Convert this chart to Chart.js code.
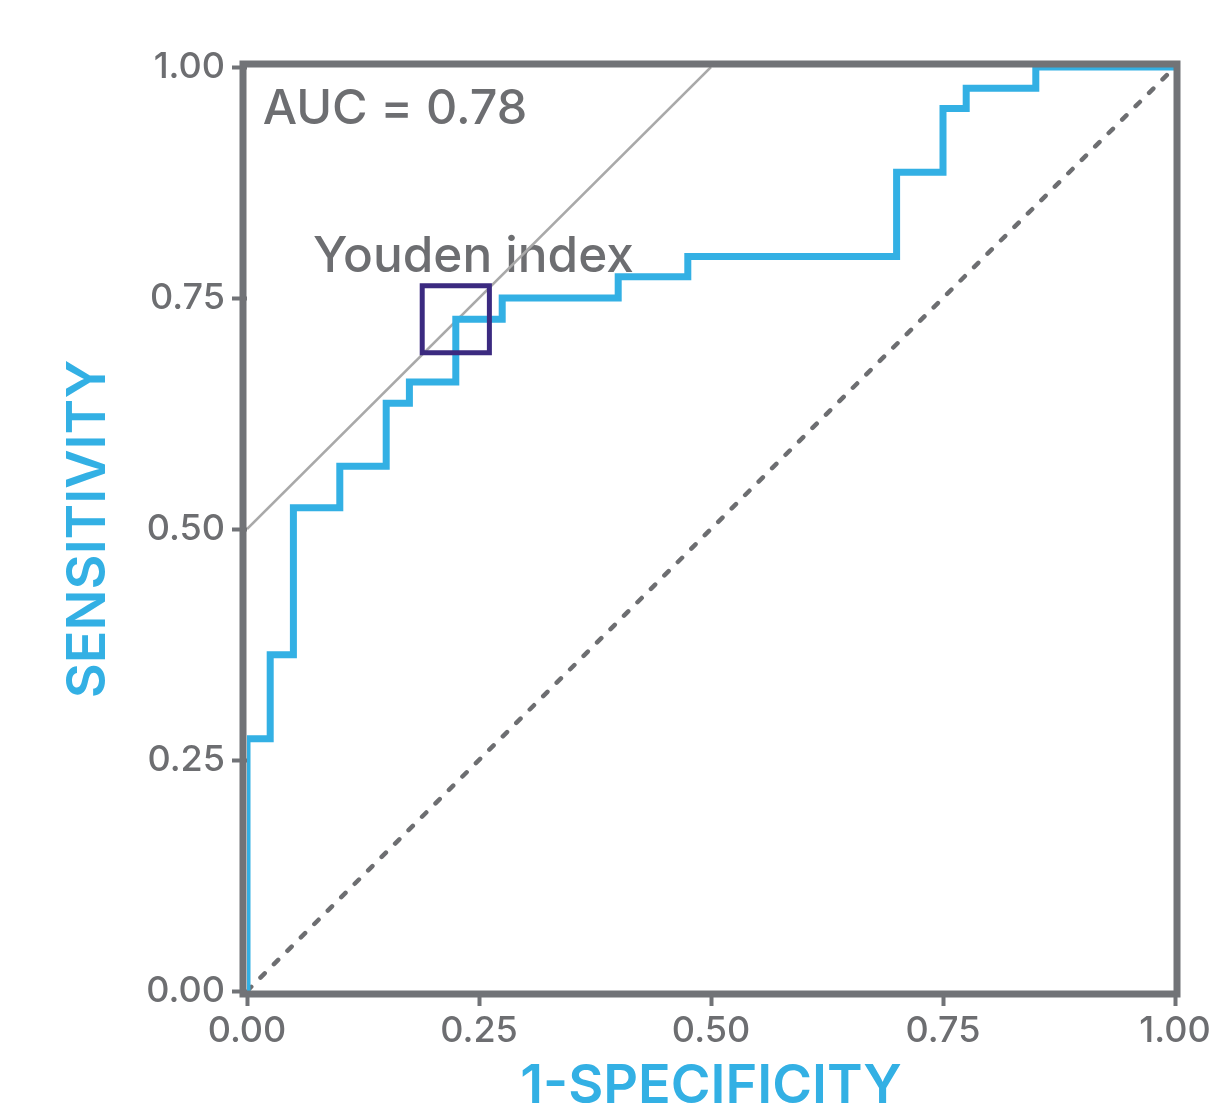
<!DOCTYPE html>
<html>
<head>
<meta charset="utf-8">
<script src="https://cdn.jsdelivr.net/npm/chart.js@4.4.1/dist/chart.umd.min.js"></script>
<style>
  html, body { margin: 0; padding: 0; background: #ffffff; }
  #wrap { width: 1217px; height: 1105px; }
</style>
</head>
<body>
<div id="wrap"><canvas id="roc" width="1217" height="1105"></canvas></div>
<script>
// ROC curve vertices (false positive rate, true positive rate)
const fpr = [0, 0, 0.025, 0.05, 0.10, 0.15, 0.175, 0.225, 0.275, 0.40, 0.475, 0.70, 0.75, 0.775, 0.85, 1.00];
const tpr = [0, 0.273, 0.364, 0.523, 0.568, 0.636, 0.659, 0.727, 0.750, 0.773, 0.795, 0.886, 0.955, 0.977, 1.00, 1.00];

// Chance diagonal
const chanceX = [0, 1];
const chanceY = [0, 1];

// Tangent line of slope 1 through the optimal cut-off
const tangentX = [0, 0.5];
const tangentY = [0.5, 1.0];

// Optimal cut-off (Youden index)
const youdenX = [0.225];
const youdenY = [0.727];

// Axis ticks
const tickValues = [0, 0.25, 0.5, 0.75, 1];

// Annotation texts and their anchor positions (data units)
const aucLabel = 'AUC = 0.78';
const aucAt = [0.017, 0.938];
const youdenLabel = 'Youden index';
const youdenAt = [0.071, 0.778];

const GREY = '#6d6e71';
const FRAME = '#717377';
const BLUE = '#33b0e4';
const PURPLE = '#3b2a80';
const LIGHT = '#a9a9a9';
const FONT = 'Inter, "Open Sans", sans-serif';

const zip = (xs, ys) => xs.map((x, i) => ({ x, y: ys[i] }));

const annotations = {
  id: 'annotations',
  beforeDatasetsDraw(chart) {
    const { ctx, scales: { x, y } } = chart;
    ctx.save();
    ctx.fillStyle = GREY;
    ctx.textBaseline = 'alphabetic';
    ctx.textAlign = 'left';
    ctx.font = '500 48.5px ' + FONT;
    ctx.fillText(aucLabel, x.getPixelForValue(aucAt[0]), y.getPixelForValue(aucAt[1]));
    ctx.font = '500 49.5px ' + FONT;
    ctx.fillText(youdenLabel, x.getPixelForValue(youdenAt[0]), y.getPixelForValue(youdenAt[1]));
    ctx.restore();
  },
  afterDatasetsDraw(chart) {
    const { ctx, chartArea: a } = chart;
    ctx.save();
    ctx.strokeStyle = FRAME;
    ctx.lineWidth = 7;
    ctx.lineJoin = 'miter';
    ctx.strokeRect(a.left - 4, a.top - 3, (a.right + 2) - (a.left - 4), (a.bottom + 3) - (a.top - 3));
    ctx.restore();
  }
};

const axisCommon = {
  type: 'linear',
  min: 0,
  max: 1,
  border: { display: false },
  grid: {
    display: true,
    drawOnChartArea: false,
    drawTicks: true,
    tickLength: 15,
    tickWidth: 4,
    tickColor: FRAME
  },
  afterBuildTicks(scale) {
    scale.ticks = tickValues.map(v => ({ value: v }));
  }
};

new Chart(document.getElementById('roc'), {
  type: 'scatter',
  data: {
    datasets: [
      {
        label: 'Youden index',
        data: zip(youdenX, youdenY),
        showLine: false,
        pointStyle: 'rect',
        pointRadius: 47.5,
        pointHoverRadius: 47.5,
        pointBorderWidth: 5,
        pointBorderColor: PURPLE,
        pointBackgroundColor: 'rgba(0,0,0,0)',
        order: 0
      },
      {
        label: 'ROC',
        data: zip(fpr, tpr),
        showLine: true,
        stepped: 'before',
        borderColor: BLUE,
        borderWidth: 7,
        pointRadius: 0,
        fill: false,
        borderJoinStyle: 'miter',
        order: 1
      },
      {
        label: 'Tangent',
        data: zip(tangentX, tangentY),
        showLine: true,
        borderColor: LIGHT,
        borderWidth: 2.5,
        pointRadius: 0,
        fill: false,
        order: 2
      },
      {
        label: 'Chance',
        data: zip(chanceX, chanceY),
        showLine: true,
        borderColor: GREY,
        borderWidth: 4.5,
        borderDash: [6, 13],
        borderCapStyle: 'round',
        pointRadius: 0,
        fill: false,
        order: 3
      }
    ]
  },
  options: {
    responsive: false,
    animation: false,
    devicePixelRatio: 1,
    layout: { autoPadding: false, padding: { top: 67, right: 42, left: 0, bottom: 0 } },
    plugins: {
      legend: { display: false },
      tooltip: { enabled: false }
    },
    scales: {
      x: Object.assign({}, axisCommon, {
        position: 'bottom',
        afterFit(scale) {
          scale.height = 114;
          scale.paddingLeft = 0;
          scale.paddingRight = 0;
        },
        ticks: {
          color: GREY,
          font: { family: FONT, size: 36, weight: '500' },
          padding: 4,
          maxRotation: 0,
          callback: v => Number(v).toFixed(2)
        },
        title: {
          display: true,
          text: '1-SPECIFICITY',
          color: BLUE,
          font: { family: FONT, size: 54, weight: '600', lineHeight: 0.8 },
          padding: { top: 0, bottom: -3 }
        }
      }),
      y: Object.assign({}, axisCommon, {
        position: 'left',
        afterFit(scale) {
          scale.width = 247;
          scale.paddingTop = 0;
          scale.paddingBottom = 0;
        },
        ticks: {
          color: GREY,
          font: { family: FONT, size: 36, weight: '500' },
          padding: 7,
          callback: v => Number(v).toFixed(2)
        },
        title: {
          display: true,
          text: 'SENSITIVITY',
          color: BLUE,
          font: { family: FONT, size: 54, weight: '600', lineHeight: 0.8 },
          padding: { top: 67, bottom: 0 }
        }
      })
    }
  },
  plugins: [annotations]
});
</script>
</body>
</html>
